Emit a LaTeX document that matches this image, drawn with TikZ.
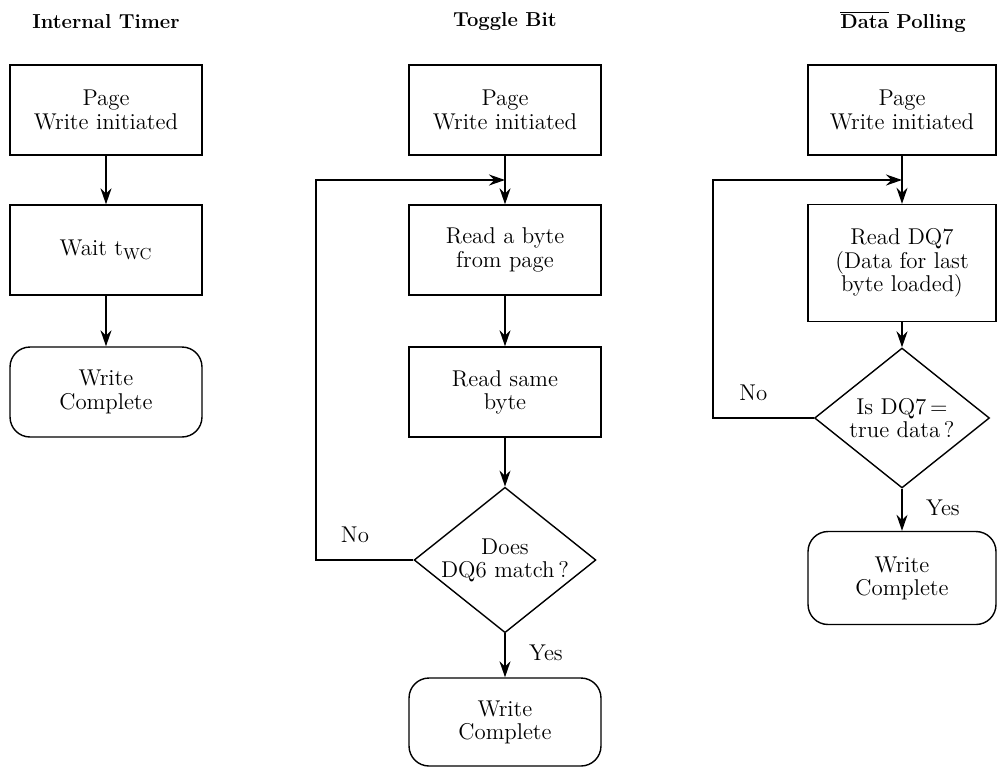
\documentclass[tikz,border=0pt]{standalone}
\usetikzlibrary{shapes,arrows.meta,positioning}

\begin{document}
\begin{tikzpicture}[x=0.02cm, y=-0.02cm,
    every node/.style={font=\fontsize{13}{13.2}\selectfont},
    box/.style={rectangle, draw, line width=0.8pt, minimum width=3.84cm, minimum height=1.8cm, align=center},
    term/.style={box, rounded corners=0.4cm},
    decide/.style={diamond, draw, line width=0.8pt, aspect=1.25, inner sep=0pt, align=center},
    title/.style={font=\fontsize{11.5}{14}\selectfont\bfseries},
    flow/.style={-{Stealth[length=3.2mm, width=2.2mm]}, line width=0.8pt}]
    \useasboundingbox (0,0) rectangle (999,768);

    % Titles
    \node[title] (t1) at (106,22) {Internal Timer};
    \node[title] (t2) at (505,22) {Toggle Bit};
    \node[title] (t3) at (903,22) {$\overline{\mbox{Data}}$ Polling};

    % Internal timer
    \node[box] (p1) at (106,110) {Page\\Write initiated};
    \node[box] (w1) at (106,250) {Wait t\textsubscript{WC}};
    \node[term] (c1) at (106,392) {Write\\Complete};

    % Toggle bit
    \node[box] (p2) at (505,110) {Page\\Write initiated};
    \node[box] (r2) at (505,250) {Read a byte\\from page};
    \node[box] (s2) at (505,392) {Read same\\byte};
    \node[decide, minimum width=3.56cm, minimum height=2.88cm] (d2) at (505,560) {Does\\DQ6 match\,?};
    \node[term, minimum height=1.76cm] (c2) at (505,722) {Write\\Complete};
    \coordinate (j2) at (505,180);
    \coordinate (l2) at (316,180);

    % Data polling
    \node[box, minimum width=3.76cm] (p3) at (902,110) {Page\\Write initiated};
    \node[box, minimum width=3.76cm, minimum height=2.34cm] (r3) at (902,263) {Read DQ7\\(Data for last\\byte loaded)};
    \node[decide, minimum width=3.5cm, minimum height=2.8cm] (d3) at (902,418) {Is DQ7\,=\\true data\,?};
    \node[term, minimum width=3.76cm, minimum height=1.86cm] (c3) at (902,578) {Write\\Complete};
    \coordinate (j3) at (902,180);
    \coordinate (l3) at (713,180);

    % Arrows
    \draw[flow] (p1) -- (w1);
    \draw[flow] (w1) -- (c1);

    \draw[flow] (p2) -- (r2);
    \draw[flow] (r2) -- (s2);
    \draw[flow] (s2) -- (d2);
    \draw[flow] (d2) -- node[right=10pt, pos=0.45] {Yes} (c2);
    \draw[flow] (d2.west) -- node[above=6pt, pos=0.6] {No} (d2.west -| l2) -- (l2) -- (j2);

    \draw[flow] (p3) -- (r3);
    \draw[flow] (r3) -- (d3);
    \draw[flow] (d3) -- node[right=10pt, pos=0.45] {Yes} (c3);
    \draw[flow] (d3.west) -- node[above=6pt, pos=0.6] {No} (d3.west -| l3) -- (l3) -- (j3);
\end{tikzpicture}
\end{document}
